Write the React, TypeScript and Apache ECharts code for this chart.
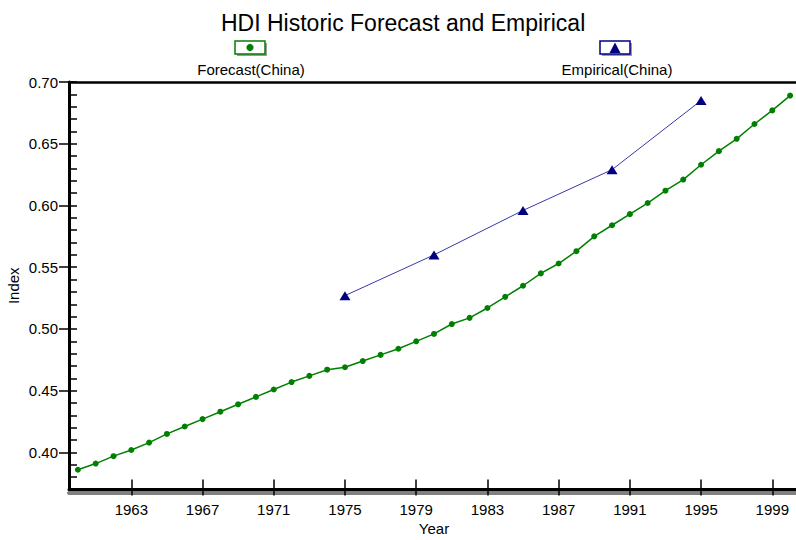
import React, { useEffect, useRef } from "react";
import * as echarts from "echarts";

const titleText = "HDI Historic Forecast and Empirical";
const seriesNames = ["Forecast(China)", "Empirical(China)"];
const years = [
  1960, 1961, 1962, 1963, 1964, 1965, 1966, 1967, 1968, 1969,
  1970, 1971, 1972, 1973, 1974, 1975, 1976, 1977, 1978, 1979,
  1980, 1981, 1982, 1983, 1984, 1985, 1986, 1987, 1988, 1989,
  1990, 1991, 1992, 1993, 1994, 1995, 1996, 1997, 1998, 1999, 2000,
];
const forecast = [
  0.386, 0.391, 0.397, 0.402, 0.408, 0.415, 0.421, 0.427, 0.433, 0.439,
  0.445, 0.451, 0.457, 0.462, 0.467, 0.469, 0.474, 0.479, 0.484, 0.49,
  0.496, 0.504, 0.509, 0.517, 0.526, 0.535, 0.545, 0.553, 0.563, 0.575,
  0.584, 0.593, 0.602, 0.612, 0.621, 0.633, 0.644, 0.654, 0.666, 0.677, 0.689,
];
const empiricalYears = [1975, 1980, 1985, 1990, 1995];
const empirical = [0.527, 0.56, 0.596, 0.629, 0.685];
const xTickLabels = [1963, 1967, 1971, 1975, 1979, 1983, 1987, 1991, 1995, 1999];
const yTickLabels = [0.4, 0.45, 0.5, 0.55, 0.6, 0.65, 0.7];

const FONT = "Liberation Sans, Arial, sans-serif";
const GREEN = "#008000";
const NAVY = "#000080";

export default function App() {
  const ref = useRef<HTMLDivElement>(null);
  useEffect(() => {
    if (!ref.current) return;
    const chart = echarts.init(ref.current, undefined, { renderer: "svg" });
    const xMin = 1959.5;
    const xMax = 2000.5;
    const yMin = 0.37;
    const yMax = 0.7;
    const option: any = {
      animation: false,
      backgroundColor: "#ffffff",
      textStyle: { fontFamily: FONT },
      title: {
        text: titleText,
        left: 221,
        top: 11,
        padding: 0,
        textStyle: { fontFamily: FONT, fontSize: 23, fontWeight: "normal", color: "#000" },
      },
      grid: {
        left: 69,
        top: 82,
        width: 730,
        height: 407.5,
        containLabel: false,
        outerBoundsMode: "none",
      },
      xAxis: [
        {
          type: "value",
          min: xMin,
          max: xMax,
          position: "bottom",
          name: "Year",
          nameLocation: "middle",
          nameGap: 31,
          nameMoveOverlap: false,
          nameTextStyle: { fontFamily: FONT, fontSize: 15, color: "#000" },
          axisLine: { show: true, onZero: false, lineStyle: { color: "#000", width: 3 } },
          axisTick: { show: true, inside: false, length: 6, customValues: xTickLabels, lineStyle: { color: "#000", width: 1.5 } },
          axisLabel: {
            show: true,
            customValues: xTickLabels,
            margin: 12,
            fontFamily: FONT,
            fontSize: 15,
            color: "#000",
            formatter: (v: number) => String(v),
          },
          splitLine: { show: false },
          z: 5,
        },
        {
          type: "value",
          min: xMin,
          max: xMax,
          position: "bottom",
          axisLine: { show: false, onZero: false },
          axisTick: { show: true, inside: true, length: 10, customValues: xTickLabels, lineStyle: { color: "#000", width: 1.5 } },
          axisLabel: { show: false },
          splitLine: { show: false },
          z: 5,
        },
        {
          type: "value",
          min: xMin,
          max: xMax,
          position: "bottom",
          offset: 3.5,
          axisLine: { show: true, onZero: false, lineStyle: { color: "#808080", width: 4 } },
          axisTick: { show: false },
          axisLabel: { show: false },
          splitLine: { show: false },
          z: 1,
        },
        {
          type: "value",
          min: xMin,
          max: xMax,
          position: "top",
          axisLine: { show: true, onZero: false, lineStyle: { color: "#000", width: 2.5 } },
          axisTick: { show: false },
          axisLabel: { show: false },
          splitLine: { show: false },
        },
      ],
      yAxis: [
        {
          type: "value",
          min: yMin,
          max: yMax,
          position: "left",
          name: "Index",
          nameLocation: "middle",
          nameGap: 48,
          nameMoveOverlap: false,
          nameTextStyle: { fontFamily: FONT, fontSize: 15, color: "#000" },
          axisLine: { show: true, onZero: false, lineStyle: { color: "#000", width: 3 } },
          axisTick: { show: true, inside: false, length: 10, customValues: yTickLabels, lineStyle: { color: "#000", width: 1.5 } },
          axisLabel: {
            show: true,
            customValues: yTickLabels,
            margin: 11,
            fontFamily: FONT,
            fontSize: 15,
            color: "#000",
            formatter: (v: number) => v.toFixed(2),
          },
          splitLine: { show: false },
          z: 5,
        },
        {
          type: "value",
          min: yMin,
          max: yMax,
          interval: 0.01,
          position: "left",
          axisLine: { show: false, onZero: false },
          axisTick: { show: true, inside: true, length: 8, lineStyle: { color: "#000", width: 1.5 } },
          axisLabel: { show: false },
          splitLine: { show: false },
          z: 5,
        },
      ],
      series: [
        {
          name: seriesNames[0],
          type: "line",
          xAxisIndex: 0,
          yAxisIndex: 0,
          data: years.map((y, i) => [y, forecast[i]]),
          symbol: "circle",
          symbolSize: 6,
          showSymbol: true,
          itemStyle: { color: GREEN },
          lineStyle: { color: GREEN, width: 1.5 },
          z: 3,
        },
        {
          name: seriesNames[1],
          type: "line",
          xAxisIndex: 0,
          yAxisIndex: 0,
          data: empiricalYears.map((y, i) => [y, empirical[i]]),
          symbol: "triangle",
          symbolSize: [11, 9],
          showSymbol: true,
          itemStyle: { color: NAVY },
          lineStyle: { color: "#3838a8", width: 1 },
          z: 3,
        },
      ],
      graphic: [
        { type: "rect", shape: { x: 237, y: 43, width: 30, height: 13 }, style: { fill: "#9a9a9a" }, z: 10 },
        { type: "rect", shape: { x: 235, y: 41, width: 30, height: 13 }, style: { fill: "#fff", stroke: GREEN, lineWidth: 1.5 }, z: 11 },
        { type: "circle", shape: { cx: 250, cy: 47.5, r: 3.6 }, style: { fill: GREEN }, z: 12 },
        {
          type: "text",
          x: 251,
          y: 62,
          style: { text: seriesNames[0], fontFamily: FONT, fontSize: 15, fill: "#000", align: "center", verticalAlign: "top" },
          z: 12,
        },
        { type: "rect", shape: { x: 602, y: 43, width: 30, height: 13 }, style: { fill: "#9a9a9a" }, z: 10 },
        { type: "rect", shape: { x: 600, y: 41, width: 30, height: 13 }, style: { fill: "#fff", stroke: NAVY, lineWidth: 1.5 }, z: 11 },
        {
          type: "polygon",
          shape: { points: [[615, 42.5], [609.5, 53], [620.5, 53]] },
          style: { fill: NAVY },
          z: 12,
        },
        {
          type: "text",
          x: 617,
          y: 62,
          style: { text: seriesNames[1], fontFamily: FONT, fontSize: 15, fill: "#000", align: "center", verticalAlign: "top" },
          z: 12,
        },
      ],
    };
    chart.setOption(option);
    return () => chart.dispose();
  }, []);
  return (
    <div
      ref={ref}
      style={{ position: "fixed", left: 0, top: 0, width: 796, height: 540, background: "#fff" }}
    />
  );
}
